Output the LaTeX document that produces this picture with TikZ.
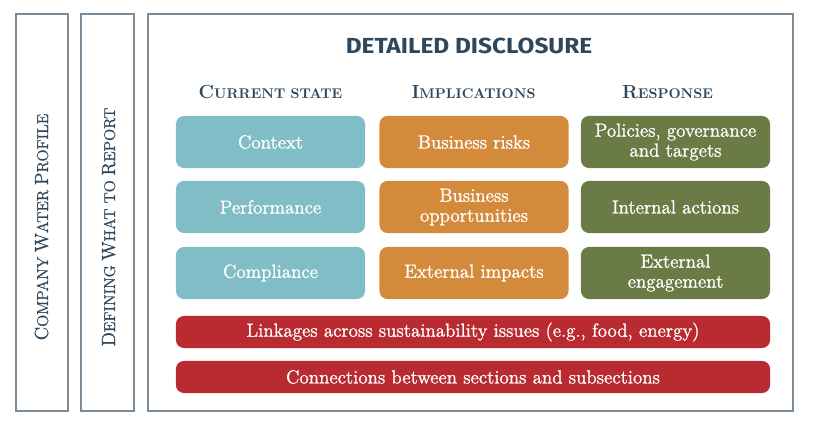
\documentclass[tikz,border=0pt]{standalone}
\usepackage{fontspec}
\newfontfamily\titlefont[FakeStretch=1.12]{Fira Sans}
\newfontfamily\cellfont[FakeBold=1.2]{Latin Modern Roman}
\newfontfamily\labelfont[FakeBold=0.8]{Latin Modern Roman}
\usetikzlibrary{positioning}
\definecolor{slate}{HTML}{2E475B}
\definecolor{frameline}{HTML}{7A8B99}
\definecolor{stateblue}{HTML}{80BDC6}
\definecolor{implorange}{HTML}{D48A3B}
\definecolor{respgreen}{HTML}{6B7B46}
\definecolor{linkred}{HTML}{B92A31}
\newcommand\capword[2]{{\fontsize{13.5}{15}\selectfont #1}{\fontsize{11.2}{13}\selectfont #2}}
\newcommand\headword[2]{{\fontsize{13.5}{15}\selectfont #1}{\fontsize{10}{12}\selectfont #2}}
\tikzset{sidebox/.style={draw=frameline, line width=0.9pt},
         sidelabel/.style={rotate=90, anchor=base, text=slate, inner sep=0pt, font=\labelfont},
         colhead/.style={anchor=base, text=slate, font=\bfseries, inner sep=0pt},
         cell/.style={rounded corners=0.2cm, minimum width=4.725cm, minimum height=1.3cm, text=white,
                      align=center, inner sep=2pt, font=\cellfont\fontsize{13.5}{14.2}\selectfont},
         state/.style={cell, fill=stateblue},
         impl/.style={cell, fill=implorange},
         resp/.style={cell, fill=respgreen},
         linkbar/.style={cell, fill=linkred, minimum width=14.85cm, minimum height=0.8cm},
        }

\begin{document}
\begin{tikzpicture}[x=0.025cm, y=-0.025cm]
        \useasboundingbox (0,0) rectangle (813,426);

        \draw[sidebox](16,14) rectangle (68,411);
        \draw[sidebox](81,14) rectangle (134,411);
        \draw[sidebox](148,14) rectangle (793,411);

        \node[sidelabel](profile)at(48,227){\capword{C}{OMPANY} \capword{W}{ATER} \capword{P}{ROFILE}};
        \node[sidelabel](defining)at(115,227){\capword{D}{EFINING} \capword{W}{HAT TO} \capword{R}{EPORT}};

        \node[anchor=base, text=slate, inner sep=0pt, font=\titlefont\bfseries\fontsize{15.5}{18}\selectfont](title)at(469,54){DETAILED DISCLOSURE};

        \node[colhead](hstate)at(270.5,99){\headword{C}{URRENT STATE}};
        \node[colhead](himpl)at(473.5,99){\headword{I}{MPLICATIONS}};
        \node[colhead](hresp)at(667.5,99){\headword{R}{ESPONSE}};

        \node[state](context)at(270.5,142){Context};
        \node[state](performance)at(270.5,207){Performance};
        \node[state](compliance)at(270.5,273){Compliance};

        \node[impl](risks)at(474,142){Business risks};
        \node[impl](opportunities)at(474,207){Business\\opportunities};
        \node[impl](impacts)at(474,273){External impacts};

        \node[resp](policies)at(675.5,142){Policies, governance\\and targets};
        \node[resp](actions)at(675.5,207){Internal actions};
        \node[resp](engagement)at(675.5,273){External\\engagement};

        \node[linkbar](linkages)at(473,332){Linkages across sustainability issues (e.g., food, energy)};
        \node[linkbar](connections)at(473,377){Connections between sections and subsections};
\end{tikzpicture}
\end{document}
